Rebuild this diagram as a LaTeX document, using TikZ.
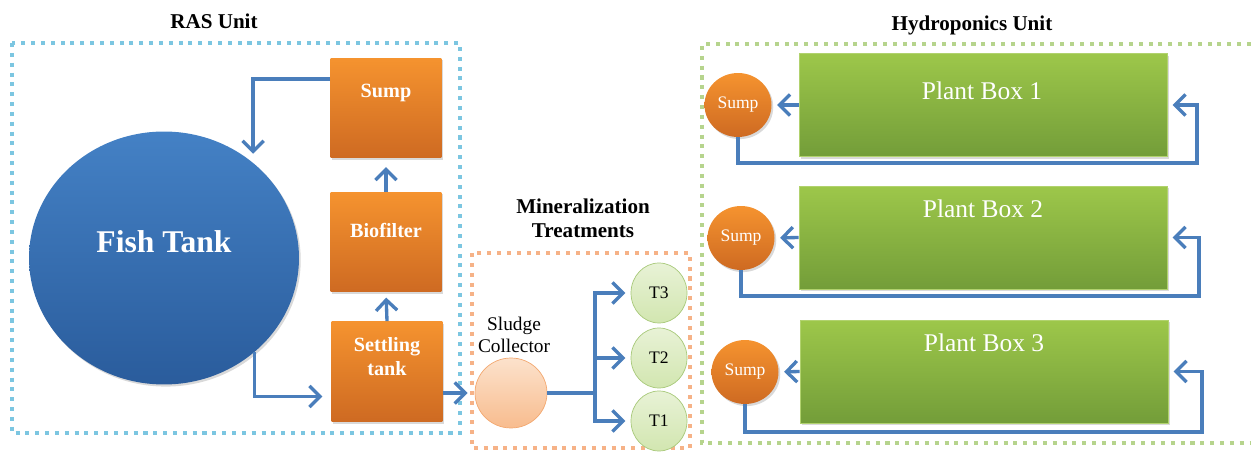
\documentclass[tikz,border=0pt]{standalone}
\usepackage{fontspec}
\setmainfont{Liberation Serif}
\usetikzlibrary{arrows.meta, positioning, shapes.geometric, shadows, calc}
\definecolor{flowBlue}{HTML}{4A7EBB}
\definecolor{rasDot}{HTML}{7CC6E1}
\definecolor{minDot}{HTML}{F6B287}
\definecolor{hydDot}{HTML}{B6D48D}
\definecolor{orgTop}{HTML}{F5932F}
\definecolor{orgBot}{HTML}{CE6A22}
\definecolor{grnTop}{HTML}{9DC74A}
\definecolor{grnBot}{HTML}{739D39}
\definecolor{fishTop}{HTML}{4481C5}
\definecolor{fishBot}{HTML}{2A5C9C}
\definecolor{tTop}{HTML}{E8F2D6}
\definecolor{tBot}{HTML}{D2E6B0}
\definecolor{tEdge}{HTML}{A8C97A}

\begin{document}
\begin{tikzpicture}[x=0.02cm, y=-0.02cm,
    flow/.style={draw=flowBlue, line width=1.9pt, -{Straight Barb[length=6pt,width=12pt]}, shorten >=3pt},
    unitbox/.style={line width=2.3pt, dash pattern=on 2.3pt off 3.3pt},
    title/.style={font=\bfseries\fontsize{12}{13.7}\selectfont, align=center},
    softshadow/.style={drop shadow={opacity=0.3, shadow xshift=1pt, shadow yshift=-1.2pt}},
    tankbox/.style={rectangle, minimum width=2.22cm, minimum height=2cm, top color=orgTop, bottom color=orgBot, softshadow},
    tanktext/.style={text=white, font=\bfseries\fontsize{11.5}{13.7}\selectfont, align=center},
    plantbox/.style={rectangle, minimum width=7.36cm, minimum height=2.06cm, top color=grnTop, bottom color=grnBot, draw=grnTop!80!white, softshadow},
    planttext/.style={text=white, font=\fontsize{14.5}{16}\selectfont},
    sumpball/.style={ellipse, minimum width=1.34cm, minimum height=1.28cm, inner sep=0pt, top color=orgTop, bottom color=orgBot, text=white, font=\fontsize{10}{12}\selectfont, softshadow},
    tball/.style={ellipse, minimum width=1.12cm, minimum height=1.2cm, inner sep=0pt, top color=tTop, bottom color=tBot, draw=tEdge, font=\fontsize{10}{12}\selectfont}]
    \useasboundingbox (0,0) rectangle (1251,452);

    % RAS unit
    \draw[unitbox, rasDot] (12,43) rectangle (460,433);
    \node[title] (rasT) at (214,21) {RAS Unit};
    \node[ellipse, minimum width=5.4cm, minimum height=5.06cm, top color=fishTop, bottom color=fishBot, softshadow] (fish) at (164,258) {};
    \node[text=white, font=\bfseries\fontsize{18}{20}\selectfont] (fishT) at (164,242) {Fish Tank};
    \node[tankbox] (sump) at (386,108) {};
    \node[tankbox] (bio) at (386,242) {};
    \node[tankbox] (settle) at (387,371.5) {};
    \node[tanktext] (sumpT) at (386,93) {Sump};
    \node[tanktext] (bioT) at (386,230) {Biofilter};
    \node[tanktext] (settleT) at (387,357) {Settling\\tank};

    \draw[flow, shorten >=5pt] ([yshift=0.58cm]sump.west) -| (fish.47);
    \draw[flow, shorten >=5pt] (fish.-46) |- ([yshift=-0.5cm]settle.west);
    \draw[flow] (settle.north) -- (bio.south);
    \draw[flow, shorten >=5pt] (bio.north) -- (sump.south);

    % mineralization
    \draw[unitbox, minDot] (472,253) rectangle (690,448);
    \node[title] (minT) at (583,218) {Mineralization\\Treatments};
    \node[font=\fontsize{11}{12.5}\selectfont, align=center] (sludgeT) at (514,335) {Sludge\\Collector};
    \node[ellipse, minimum width=1.44cm, minimum height=1.4cm, top color={rgb,255:red,252;green,226;blue,204}, bottom color={rgb,255:red,248;green,188;blue,142}, draw={rgb,255:red,243;green,168;blue,112}] (sludge) at (511,393) {};
    \node[tball] (t3) at (659,293) {T3};
    \node[tball] (t2) at (659,358) {T2};
    \node[tball] (t1) at (659,421) {T1};
    \coordinate (fork) at (595,393);

    \draw[flow, shorten >=4pt] (settle.east |- sludge.west) -- (sludge.west);
    \draw[draw=flowBlue, line width=1.9pt] (sludge.east) -- (fork);
    \draw[flow] (fork) |- (t3.west);
    \draw[flow] (fork) |- (t2.west);
    \draw[flow] (fork) |- (t1.west);

    % hydroponics unit
    \draw[unitbox, hydDot] (1251,44) -- (702,44) -- (702,443) -- (1251,443);
    \node[title] (hydT) at (972,25) {Hydroponics Unit};
    \node[plantbox] (pb1) at (983,105) {};
    \node[plantbox] (pb2) at (983,237.5) {};
    \node[plantbox] (pb3) at (984,371.5) {};
    \node[planttext] (pb1T) at (982,91) {Plant Box 1};
    \node[planttext] (pb2T) at (983,209) {Plant Box 2};
    \node[planttext] (pb3T) at (984,343) {Plant Box 3};
    \node[sumpball] (sp1) at (738,105) {Sump};
    \node[sumpball] (sp2) at (741,238) {Sump};
    \node[sumpball] (sp3) at (745,372) {Sump};
    \coordinate (r1) at (1197,163);
    \coordinate (r2) at (1199,296);
    \coordinate (r3) at (1202,432);

    \draw[flow] (pb1.west) -- (sp1.east);
    \draw[flow] (pb2.west) -- (sp2.east);
    \draw[flow] (pb3.west) -- (sp3.east);
    \draw[flow] (sp1.south) |- (r1) |- (pb1.east);
    \draw[flow] (sp2.south) |- (r2) |- (pb2.east);
    \draw[flow] (sp3.south) |- (r3) |- (pb3.east);
\end{tikzpicture}
\end{document}
